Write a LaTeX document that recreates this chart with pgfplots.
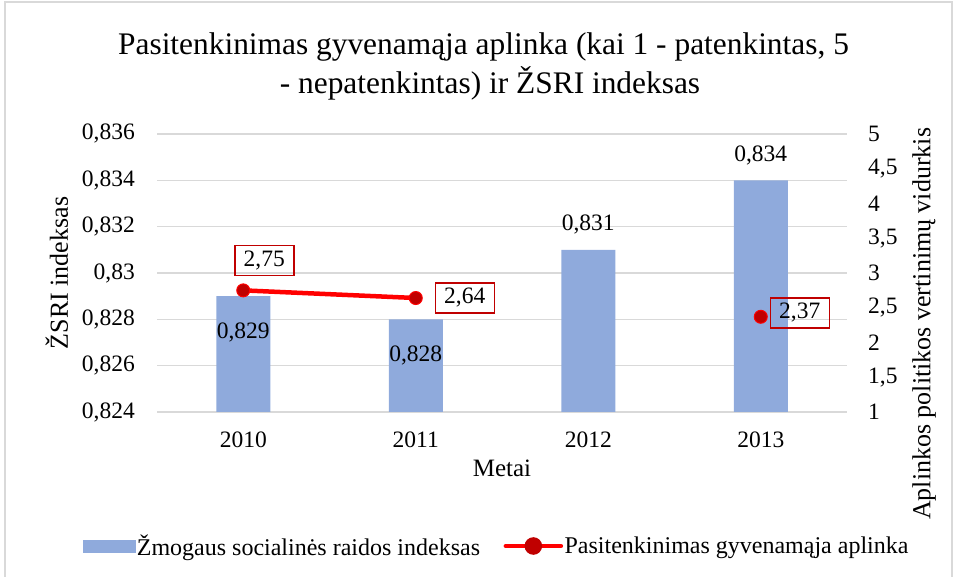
\documentclass[border=0pt]{standalone}
\usepackage{fontspec}
\setmainfont{Liberation Serif}
\usepackage{pgfplots}
\pgfplotsset{compat=1.18}
\definecolor{barcol}{HTML}{8FAADC}
\definecolor{gridcol}{HTML}{D9D9D9}
\definecolor{darkred}{HTML}{C00000}
\definecolor{linered}{HTML}{FF0000}
\newcommand\tickfont{\fontsize{23.5}{28}\selectfont}
\newcommand\labfont{\fontsize{26}{31}\selectfont}
\begin{document}
\begin{tikzpicture}[x=1pt,y=1pt]
\useasboundingbox (0,0) rectangle (957,577);
\draw[gridcol, line width=1.5pt] (5,0) -- (5,575) -- (952,575) -- (952,0);
\node[font=\fontsize{31.4}{37}\selectfont, anchor=base] at (483.5,522) {Pasitenkinimas gyvenamąja aplinka (kai 1 - patenkintas, 5};
\node[font=\fontsize{31.4}{37}\selectfont, anchor=base] at (490,483.5) {- nepatenkintas) ir ŽSRI indeksas};
\begin{axis}[
  at={(157pt,165pt)}, anchor=south west,
  width=690pt, height=278pt, scale only axis,
  xmin=-0.5, xmax=3.5, ymin=0.824, ymax=0.836,
  xtick={0,1,2,3}, xticklabels={2010,2011,2012,2013},
  ytick={0.824,0.826,0.828,0.830,0.832,0.834,0.836},
  axis line style={draw=none}, major tick length=0pt,
  ymajorgrids, grid style={gridcol, line width=1.5pt},
  tick label style={font=\tickfont, inner sep=0pt},
  /pgf/number format/assume math mode=true,
  yticklabel style={anchor=east, xshift=-22pt, /pgf/number format/fixed, /pgf/number format/precision=3, /pgf/number format/use comma},
  xticklabel style={anchor=base, yshift=-35.5pt},
  every axis y label/.style={at={(axis description cs:-0.145,0.5)}, anchor=center, rotate=90, font=\labfont},
  every axis x label/.style={at={(axis description cs:0.5,-0.2338)}, anchor=base, font=\fontsize{25}{30}\selectfont},
  ylabel={ŽSRI indeksas}, xlabel={Metai},
]
\addplot[ybar, bar width=54pt, bar shift=0pt, fill=barcol, draw=none] coordinates {(0,0.829) (1,0.828) (2,0.831) (3,0.834)};
\addplot[draw=none, mark=none, nodes near coords, point meta=explicit symbolic,
  nodes near coords style={font=\tickfont, anchor=center, yshift=-36pt}]
  table[meta=lab, row sep=\\] {x y lab\\ 0 0.829 {0,829}\\ 1 0.828 {0,828}\\};
\addplot[draw=none, mark=none, nodes near coords, point meta=explicit symbolic,
  nodes near coords style={font=\tickfont, anchor=center, yshift=25pt}]
  table[meta=lab, row sep=\\] {x y lab\\ 2 0.831 {0,831}\\ 3 0.834 {0,834}\\};
\end{axis}
\begin{axis}[
  at={(157pt,165pt)}, anchor=south west,
  width=690pt, height=278pt, scale only axis,
  xmin=-0.5, xmax=3.5, ymin=1, ymax=5,
  axis x line=none, axis y line*=right,
  xtick=\empty,
  ytick={1,1.5,2,2.5,3,3.5,4,4.5,5},
  axis line style={draw=none}, major tick length=0pt,
  tick label style={font=\tickfont, inner sep=0pt},
  /pgf/number format/assume math mode=true,
  yticklabel style={anchor=west, xshift=21pt, /pgf/number format/use comma},
  every axis y label/.style={at={(axis description cs:1.1116,0.317)}, anchor=center, rotate=90, font=\labfont},
  ylabel={Aplinkos politikos vertinimų vidurkis},
  legend columns=2,
  legend style={at={(0.492,-0.482)}, anchor=center, draw=none, fill=none,
    font=\fontsize{24}{28}\selectfont, /tikz/every even column/.append style={column sep=22pt},
    nodes={inner sep=1.5pt}},
  clip=false,
]
\addlegendimage{legend image code/.code={\fill[barcol] (0pt,-6pt) rectangle (52pt,6pt);}}
\addlegendentry{Žmogaus socialinės raidos indeksas}
\addplot[linered, line width=4.5pt, line cap=round, mark=*, mark size=6.5pt,
  mark options={fill=darkred, draw=linered, line width=1pt}, unbounded coords=jump,
  legend image code/.code={\draw[linered, line width=4.5pt] (0pt,0pt)--(55pt,0pt); \fill[darkred] (27.5pt,0pt) circle (6.5pt);}]
  coordinates {(0,2.75) (1,2.64) (2,nan) (3,2.37)};
\addlegendentry{Pasitenkinimas gyvenamąja aplinka}
\addplot[forget plot, draw=none, mark=none, nodes near coords, point meta=explicit symbolic,
  nodes near coords style={font=\tickfont, draw=darkred, line width=1.5pt, minimum width=59pt, minimum height=30pt, inner sep=0pt, anchor=center, xshift=21pt, yshift=30pt}]
  table[meta=lab, row sep=\\] {x y lab\\ 0 2.75 {2,75}\\};
\addplot[forget plot, draw=none, mark=none, nodes near coords, point meta=explicit symbolic,
  nodes near coords style={font=\tickfont, draw=darkred, line width=1.5pt, minimum width=59pt, minimum height=30pt, inner sep=0pt, anchor=center, xshift=49pt, yshift=0pt}]
  table[meta=lab, row sep=\\] {x y lab\\ 1 2.64 {2,64}\\};
\addplot[forget plot, draw=none, mark=none, nodes near coords, point meta=explicit symbolic,
  nodes near coords style={font=\tickfont, draw=darkred, line width=1.5pt, minimum width=59pt, minimum height=30pt, inner sep=0pt, anchor=center, xshift=39pt, yshift=4pt}]
  table[meta=lab, row sep=\\] {x y lab\\ 3 2.37 {2,37}\\};
\end{axis}
\end{tikzpicture}
\end{document}
